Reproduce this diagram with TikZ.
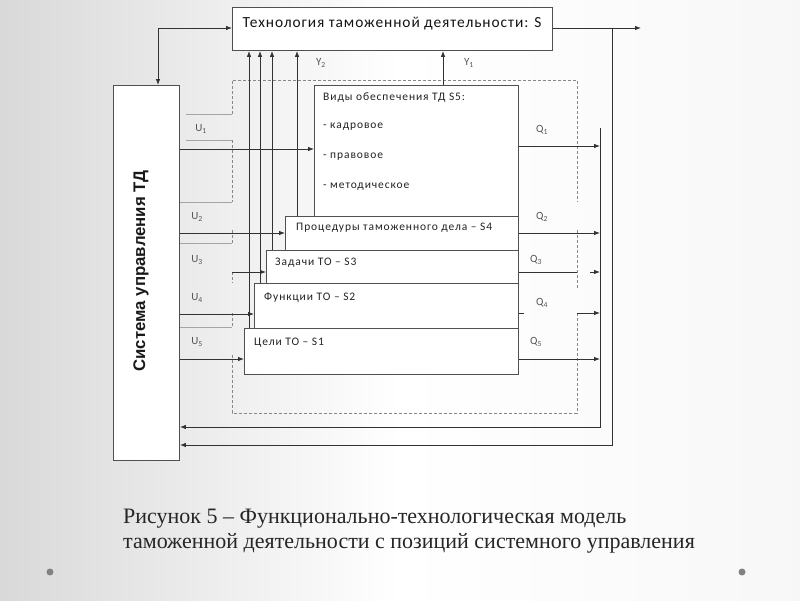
\documentclass[tikz,border=0pt]{standalone}
\usepackage{fontspec}
\usetikzlibrary{arrows.meta}
\newfontfamily\carl[LetterSpace=8]{Carlito}
\newfontfamily\carltitle[LetterSpace=6]{Carlito}
\newfontfamily\sysfont{Liberation Sans}
\newfontfamily\capfont{Liberation Serif}
\definecolor{lineC}{RGB}{50,50,50}
\definecolor{boxC}{RGB}{80,80,80}
\definecolor{dashC}{RGB}{135,135,135}
\definecolor{faintC}{RGB}{165,165,165}
\definecolor{textC}{RGB}{35,35,35}
\definecolor{lblC}{RGB}{85,85,85}
\definecolor{dotC}{RGB}{130,130,130}
\tikzset{
  boxN/.style={draw=boxC, line width=0.9pt, fill=white, inner sep=0pt, anchor=north west},
  arr/.style={draw=lineC, line width=0.8pt, -{Latex[length=6pt,width=4.5pt]}},
  ln/.style={draw=lineC, line width=0.8pt},
  dsh/.style={draw=dashC, line width=0.7pt, dash pattern=on 3pt off 2pt},
  faint/.style={draw=faintC, line width=0.7pt},
  txt/.style={inner sep=0pt, anchor=west, text=textC, font=\carl\fontsize{11.5}{13}\selectfont},
  lbl/.style={inner sep=0pt, text=lblC, font=\carl\fontsize{11}{12}\selectfont},
  captxt/.style={inner sep=0pt, anchor=base west, text=black!85, font=\capfont\fontsize{22}{24}\selectfont}
}
\begin{document}
\begin{tikzpicture}[x=1pt,y=-1pt]
\useasboundingbox (0,0) rectangle (800,600);
% background
\shade[left color=black!15, right color=white] (0,0) rectangle (400,600);
\shade[left color=white, right color=black!3] (400,0) rectangle (800,600);
\fill[dotC] (50,572) circle (3.5);
\fill[dotC] (742,572) circle (3.5);

% boxes
\node[boxN, minimum width=320pt, minimum height=43pt] (top) at (232,7) {};
\node[inner sep=0pt, text=black!92, font=\carltitle\fontsize{15.4}{17}\selectfont] (toptxt) at (392,24) {Технология таможенной деятельности: S};
\node[boxN, minimum width=66pt, minimum height=375pt] (sys) at (113,85) {};
\node[inner sep=0pt, rotate=90, text=black!90, font=\sysfont\bfseries\fontsize{16.8}{18}\selectfont] (systxt) at (141,271) {Система управления ТД};

\node[boxN, minimum width=204pt, minimum height=160pt] (s5) at (314,85) {};
\node[boxN, minimum width=233pt, minimum height=34pt] (s4) at (285,216) {};
\node[boxN, minimum width=252pt, minimum height=33pt] (s3) at (266,250) {};
\node[boxN, minimum width=264pt, minimum height=45pt] (s2) at (254,283) {};
\node[boxN, minimum width=274pt, minimum height=46pt] (s1) at (244,328) {};

\node[txt] (t5a) at (323,98) {Виды обеспечения ТД S5:};
\node[txt] (t5b) at (323,127) {- кадровое};
\node[txt] (t5c) at (323,157) {- правовое};
\node[txt] (t5d) at (323,187) {- методическое};
\node[txt] (t4) at (296,228) {Процедуры таможенного дела – S4};
\node[txt] (t3) at (275,263) {Задачи ТО – S3};
\node[txt] (t2) at (264,298) {Функции ТО – S2};
\node[txt] (t1) at (254,343) {Цели ТО – S1};

% dashed frame (broken where labels cover it)
\draw[dsh] (232,114) -- (232,80) -- (577,80) -- (577,202);
\draw[dsh] (577,230) -- (577,288);
\draw[dsh] (577,313) -- (577,413) -- (232,413) -- (232,355);
\draw[dsh] (232,140) -- (232,202);
\draw[dsh] (232,230) -- (232,243);
\draw[dsh] (232,272) -- (232,283);
\draw[dsh] (232,313) -- (232,327);
% faint label-box edges
\draw[faint] (186,114) -- (232,114);
\draw[faint] (186,140) -- (232,140);
\draw[faint] (sys.east |- 0,202) -- (232,202);
\draw[faint] (sys.east |- 0,243) -- (232,243);
\draw[faint] (sys.east |- 0,327) -- (232,327);

% feedback at top
\coordinate (fbL) at (158,28);
\coordinate (fbR) at (612,28);
\coordinate (outR) at (641,28);
\coordinate (b2) at (612,445);
\coordinate (busT) at (600,128);
\coordinate (busB) at (600,427);
\draw[arr] (fbL) -- (top.west |- fbL);
\draw[arr] (fbL) -- (fbL |- sys.north);
\draw[arr] (top.east |- fbL) -- (outR);
\draw[arr] (fbR) -- (b2) -- (sys.east |- b2);
\draw[arr] (busT) -- (busB) -- (sys.east |- busB);

% U inputs
\coordinate (u3s) at (232,272);
\draw[arr] (sys.east |- 0,149) -- (s5.west |- 0,149);
\draw[arr] (sys.east |- 0,233) -- (s4.west |- 0,233);
\draw[arr] (u3s) -- (s3.west |- u3s);
\draw[arr] (sys.east |- 0,314) -- (s2.west |- 0,314);
\draw[arr] (sys.east |- 0,359) -- (s1.west |- 0,359);

% Y outputs up
\draw[arr] (249,0 |- s1.north) -- (249,0 |- top.south);
\draw[arr] (260,0 |- s2.north) -- (260,0 |- top.south);
\draw[arr] (272,0 |- s3.north) -- (272,0 |- top.south);
\draw[arr] (297,0 |- s4.north) -- (297,0 |- top.south);
\draw[arr] (443,0 |- s5.north) -- (443,0 |- top.south);

% Q outputs
\draw[arr] (s5.east |- 0,146) -- (busT |- 0,146);
\draw[arr] (s4.east |- 0,233) -- (busT |- 0,233);
\draw[ln] (s3.east |- 0,272) -- (577,272);
\draw[arr] (590,272) -- (busT |- 0,272);
\draw[ln] (s2.east |- 0,313) -- ++(5,0);
\draw[arr] (577,313) -- (busT |- 0,313);
\draw[arr] (s1.east |- 0,359) -- (busT |- 0,359);

% labels
\node[lbl] (y2) at (321,63) {Y\textsubscript{2}};
\node[lbl] (y1) at (469,63) {Y\textsubscript{1}};
\node[lbl] (u1) at (201,129) {U\textsubscript{1}};
\node[lbl] (u2) at (197,217) {U\textsubscript{2}};
\node[lbl] (u3) at (197,260) {U\textsubscript{3}};
\node[lbl] (u4) at (197,298) {U\textsubscript{4}};
\node[lbl] (u5) at (197,342) {U\textsubscript{5}};
\node[lbl] (q1) at (542,130) {Q\textsubscript{1}};
\node[lbl] (q2) at (542,217) {Q\textsubscript{2}};
\node[lbl] (q3) at (536,260) {Q\textsubscript{3}};
\node[lbl] (q4) at (542,303) {Q\textsubscript{4}};
\node[lbl] (q5) at (536,342) {Q\textsubscript{5}};

% caption
\node[captxt] (cap1) at (123,523) {Рисунок 5 – Функционально-технологическая модель};
\node[captxt] (cap2) at (123,548) {таможенной деятельности с позиций системного управления};
\end{tikzpicture}
\end{document}
